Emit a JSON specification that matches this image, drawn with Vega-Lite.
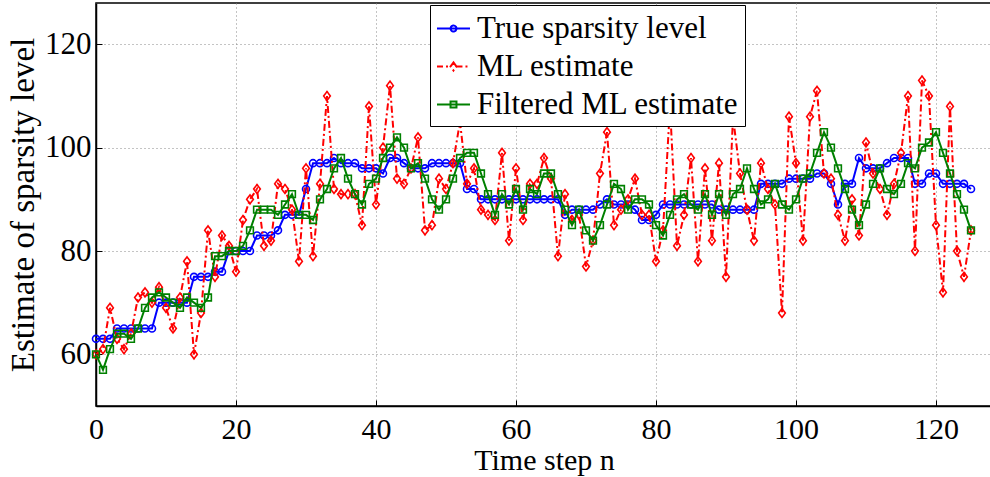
{
  "$schema": "https://vega.github.io/schema/vega-lite/v6.json",
  "width": 896,
  "height": 403,
  "autosize": {"type": "none"},
  "padding": {"left": 96, "top": 3, "right": 0, "bottom": 71},
  "background": "white",
  "data": {"values": [
    {"n":0,"t":63,"m":60,"f":60},{"n":1,"t":63,"m":61,"f":57},{"n":2,"t":63,"m":69,"f":61},{"n":3,"t":65,"m":63,"f":64},
    {"n":4,"t":65,"m":61,"f":64},{"n":5,"t":65,"m":64,"f":63},{"n":6,"t":65,"m":71,"f":65},{"n":7,"t":65,"m":72,"f":69},
    {"n":8,"t":65,"m":70,"f":71},{"n":9,"t":70,"m":73,"f":72},{"n":10,"t":70,"m":69,"f":71},{"n":11,"t":70,"m":65,"f":70},
    {"n":12,"t":70,"m":71,"f":69},{"n":13,"t":70,"m":78,"f":71},{"n":14,"t":75,"m":60,"f":70},{"n":15,"t":75,"m":68,"f":69},
    {"n":16,"t":75,"m":84,"f":71},{"n":17,"t":76,"m":75,"f":79},{"n":18,"t":76,"m":83,"f":79},{"n":19,"t":80,"m":81,"f":80},
    {"n":20,"t":80,"m":76,"f":80},{"n":21,"t":80,"m":86,"f":81},{"n":22,"t":80,"m":90,"f":84},{"n":23,"t":83,"m":92,"f":88},
    {"n":24,"t":83,"m":81,"f":88},{"n":25,"t":83,"m":82,"f":88},{"n":26,"t":84,"m":93,"f":87},{"n":27,"t":87,"m":92,"f":89},
    {"n":28,"t":87,"m":88,"f":91},{"n":29,"t":87,"m":78,"f":87},{"n":30,"t":92,"m":96,"f":87},{"n":31,"t":97,"m":79,"f":86},
    {"n":32,"t":97,"m":93,"f":90},{"n":33,"t":97,"m":110,"f":92},{"n":34,"t":98,"m":92,"f":96},{"n":35,"t":97,"m":91,"f":98},
    {"n":36,"t":97,"m":91,"f":94},{"n":37,"t":97,"m":91,"f":91},{"n":38,"t":96,"m":85,"f":89},{"n":39,"t":96,"m":108,"f":93},
    {"n":40,"t":96,"m":89,"f":94},{"n":41,"t":95,"m":100,"f":98},{"n":42,"t":98,"m":112,"f":100},{"n":43,"t":98,"m":94,"f":102},
    {"n":44,"t":97,"m":93,"f":100},{"n":45,"t":96,"m":96,"f":96},{"n":46,"t":96,"m":102,"f":97},{"n":47,"t":96,"m":84,"f":94},
    {"n":48,"t":97,"m":85,"f":90},{"n":49,"t":97,"m":94,"f":88},{"n":50,"t":97,"m":92,"f":90},{"n":51,"t":97,"m":97,"f":94},
    {"n":52,"t":97,"m":105,"f":98},{"n":53,"t":92,"m":93,"f":99},{"n":54,"t":92,"m":96,"f":99},{"n":55,"t":90,"m":88,"f":95},
    {"n":56,"t":90,"m":87,"f":91},{"n":57,"t":90,"m":86,"f":87},{"n":58,"t":90,"m":99,"f":91},{"n":59,"t":90,"m":82,"f":89},
    {"n":60,"t":90,"m":96,"f":92},{"n":61,"t":90,"m":86,"f":88},{"n":62,"t":90,"m":93,"f":92},{"n":63,"t":90,"m":93,"f":91},
    {"n":64,"t":90,"m":98,"f":95},{"n":65,"t":90,"m":94,"f":95},{"n":66,"t":90,"m":79,"f":91},{"n":67,"t":87,"m":91,"f":88},
    {"n":68,"t":88,"m":86,"f":85},{"n":69,"t":88,"m":87,"f":88},{"n":70,"t":88,"m":77,"f":84},{"n":71,"t":88,"m":82,"f":82},
    {"n":72,"t":89,"m":95,"f":85},{"n":73,"t":90,"m":103,"f":89},{"n":74,"t":89,"m":85,"f":93},{"n":75,"t":89,"m":88,"f":92},
    {"n":76,"t":89,"m":90,"f":88},{"n":77,"t":88,"m":94,"f":90},{"n":78,"t":86,"m":87,"f":90},{"n":79,"t":86,"m":87,"f":89},
    {"n":80,"t":87,"m":78,"f":85},{"n":81,"t":89,"m":84,"f":83},{"n":82,"t":89,"m":108,"f":87},{"n":83,"t":89,"m":81,"f":90},
    {"n":84,"t":89,"m":87,"f":91},{"n":85,"t":89,"m":98,"f":89},{"n":86,"t":89,"m":78,"f":88},{"n":87,"t":89,"m":96,"f":91},
    {"n":88,"t":89,"m":82,"f":87},{"n":89,"t":88,"m":97,"f":91},{"n":90,"t":88,"m":75,"f":87},{"n":91,"t":88,"m":106,"f":91},
    {"n":92,"t":88,"m":95,"f":92},{"n":93,"t":88,"m":88,"f":96},{"n":94,"t":88,"m":82,"f":92},{"n":95,"t":93,"m":97,"f":89},
    {"n":96,"t":93,"m":92,"f":90},{"n":97,"t":93,"m":89,"f":93},{"n":98,"t":93,"m":68,"f":89},{"n":99,"t":94,"m":106,"f":88},
    {"n":100,"t":94,"m":97,"f":90},{"n":101,"t":94,"m":82,"f":94},{"n":102,"t":94,"m":106,"f":95},{"n":103,"t":95,"m":111,"f":99},
    {"n":104,"t":95,"m":95,"f":103},{"n":105,"t":93,"m":94,"f":100},{"n":106,"t":89,"m":87,"f":96},{"n":107,"t":93,"m":82,"f":92},
    {"n":108,"t":93,"m":90,"f":88},{"n":109,"t":98,"m":83,"f":85},{"n":110,"t":96,"m":101,"f":89},{"n":111,"t":96,"m":95,"f":93},
    {"n":112,"t":96,"m":92,"f":96},{"n":113,"t":97,"m":87,"f":92},{"n":114,"t":98,"m":93,"f":91},{"n":115,"t":98,"m":99,"f":93},
    {"n":116,"t":98,"m":110,"f":97},{"n":117,"t":93,"m":80,"f":96},{"n":118,"t":93,"m":113,"f":100},{"n":119,"t":95,"m":110,"f":101},
    {"n":120,"t":95,"m":85,"f":103},{"n":121,"t":93,"m":72,"f":99},{"n":122,"t":93,"m":108,"f":95},{"n":123,"t":93,"m":80,"f":91},
    {"n":124,"t":93,"m":75,"f":88},{"n":125,"t":92,"m":84,"f":84}
  ]},
  "transform": [{"fold": ["t", "m", "f"], "as": ["key", "value"]}],
  "encoding": {
    "x": {
      "field": "n", "type": "quantitative",
      "scale": {"domain": [0, 128], "nice": false},
      "axis": {"values": [0, 20, 40, 60, 80, 100, 120], "title": "Time step n", "labelPadding": 14, "labelFontSize": 30, "titlePadding": 1, "titleFontSize": 30, "labelFlush": false}
    },
    "y": {
      "field": "value", "type": "quantitative",
      "scale": {"domain": [50, 128], "nice": false, "zero": false},
      "axis": {"values": [60, 80, 100, 120], "title": "Estimate of sparsity level", "labelPadding": 11, "titlePadding": 4}
    },
    "color": {
      "field": "key", "type": "nominal",
      "scale": {"domain": ["t", "m", "f"], "range": ["#0000ff", "#ff0000", "#008000"]},
      "legend": {
        "title": null,
        "orient": "none",
        "legendX": 334,
        "legendY": 2,
        "labelExpr": "datum.value === 't' ? 'True sparsity level' : datum.value === 'm' ? 'ML estimate' : 'Filtered ML estimate'",
        "encode": {
          "symbols": {
            "update": {
              "shape": {"signal": "datum.value === 't' ? 'M-1,0L1,0M-0.18,0A0.18,0.18 0 1,0 0.18,0A0.18,0.18 0 1,0 -0.18,0' : datum.value === 'm' ? 'M-1,0L-0.18,0M0.18,0L1,0M0,-0.24L0.18,0L0,0.24L-0.18,0Z' : 'M-1,0L1,0M-0.18,-0.18L0.18,-0.18L0.18,0.18L-0.18,0.18Z'"},
              "strokeDash": {"signal": "datum.value === 'm' ? [6,3,2,3] : [1,0]"},
              "fill": {"value": "transparent"},
              "strokeWidth": {"value": 2}
            }
          }
        }
      }
    }
  },
  "layer": [
    {
      "transform": [{"filter": "datum.key === 't'"}],
      "mark": {"type": "line", "strokeWidth": 2, "point": {"filled": false, "shape": "circle", "size": 49, "strokeWidth": 1.6}}
    },
    {
      "transform": [{"filter": "datum.key === 'm'"}],
      "mark": {"type": "line", "strokeWidth": 2, "strokeDash": [7, 3, 2, 3], "point": {"filled": false, "shape": "M0,-1L0.75,0L0,1L-0.75,0Z", "size": 80, "strokeWidth": 1.6, "strokeDash": [1, 0]}}
    },
    {
      "transform": [{"filter": "datum.key === 'f'"}],
      "mark": {"type": "line", "strokeWidth": 2, "point": {"filled": false, "shape": "square", "size": 45, "strokeWidth": 1.6}}
    }
  ],
  "config": {
    "view": {"stroke": "black", "strokeWidth": 1.5},
    "axis": {
      "labelFont": "Liberation Serif", "titleFont": "Liberation Serif",
      "labelFontSize": 31, "titleFontSize": 33, "titleFontWeight": "normal",
      "labelColor": "black", "titleColor": "black",
      "domainColor": "black", "domainWidth": 1.5,
      "tickColor": "black", "tickSize": -6, "tickWidth": 1,
      "gridColor": "#888888", "gridDash": [1, 3], "gridWidth": 1
    },
    "legend": {
      "labelFont": "Liberation Serif", "labelFontSize": 31, "labelColor": "black", "labelLimit": 0,
      "symbolSize": 1089, "symbolStrokeWidth": 2,
      "rowPadding": 5, "labelOffset": 6,
      "padding": 6, "strokeColor": "black", "fillColor": "white", "cornerRadius": 0
    }
  }
}
